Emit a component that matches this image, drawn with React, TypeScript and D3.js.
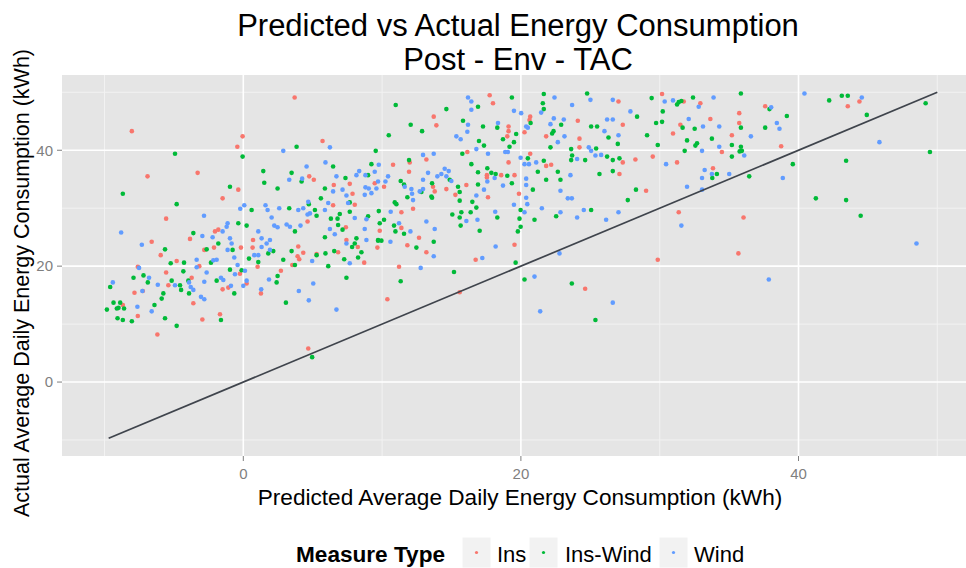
import React from "react";
import * as d3 from "d3";

const titleLines = ["Predicted vs Actual Energy Consumption", "Post - Env - TAC"];
const xTitle = "Predicted Average Daily Energy Consumption (kWh)";
const yTitle = "Actual Average Daily Energy Consumption (kWh)";
const legendTitle = "Measure Type";
const seriesNames = ["Ins", "Ins-Wind", "Wind"];
const seriesColors = ["#F8766D", "#00BA38", "#619CFF"];
const majorTicks = [0, 20, 40];
const minorTicks = [-10, 10, 30, 50];
const refLine = [-9.7, 50];

const insPoints: [number, number][] = [
  [3.7,49.1],[-8.03,43.3],[-0.05,42.4],[-0.43,40.6],[5.71,41.6],[-6.9,35.5],[-3.29,36.1],[-0.36,33.2],[-1.49,31.7],
  [4.75,35.5],[5.08,34.9],[6.52,34.0],[7.67,34.2],[7.87,32.5],[-5.56,28.2],[4.63,27.7],[-3.84,24.7],[-2.04,26.0],
  [-1.8,26.3],[0.7,24.5],[6.47,30.5],[7.39,26.7],[7.43,24.5],[8.03,30.6],
  [17.75,49.5],[17.99,48.1],[13.72,45.8],[13.91,44.3],[19.11,44.1],[19.11,43.3],[19.02,42.4],[20.67,45.8],[20.62,45.2],
  [20.26,43.1],[21.82,42.4],[24.22,42.0],[24.22,40.5],[24.1,45.1],[27.03,48.4],[27.34,44.4],[16.14,39.7],[20.67,39.4],
  [19.11,37.9],[10.79,37.5],[11.99,37.9],[11.94,36.3],[13.19,38.4],[21.82,37.3],[22.18,37.5],[29.5,38.9],[28.25,38.4],
  [27.34,37.9],[27.1,35.9],[29.02,33.0],[17.55,35.7],[17.55,35.3],[18.58,35.7],[19.54,35.7],[16.07,34.0],[13.67,33.7],
  [13.79,32.9],[14.63,33.3],[15.28,32.3],[19.86,32.5],[17.63,31.9],[9.47,34.3],[10.14,33.7],[12.23,29.9],[11.39,29.3],
  [11.39,26.6],[9.83,26.1],[12.66,24.9],
  [32.93,48.1],[31.73,48.4],[30.17,49.7],[37.6,47.6],[43.55,47.6],[44.39,48.4],[33.65,45.4],[35.73,46.4],[35.73,44.7],
  [31.49,44.4],[30.96,42.9],[35.2,42.6],[38.75,40.7],[34.48,39.7],[31.25,37.9],[33.84,36.9],[31.37,29.3],[36.04,28.4],
  [-6.6,24.2],[-5.95,21.9],[-7.6,19.9],[-5.56,18.9],[-4.8,20.9],[-5.4,16.7],[-7.84,15.4],[-7.24,15.7],[-8.68,13.3],
  [-7.6,11.4],[-6.19,8.2],[-3.6,13.6],[-2.95,10.8],[-1.68,11.7],[-3.72,18.0],[-3.17,20.0],[-2.81,22.8],[-2.11,23.2],
  [-1.49,16.0],[-1.08,16.3],[-0.24,18.7],[0.24,17.0],[-0.17,23.2],[0.67,23.2],[1.27,15.3],[1.03,19.9],[2.71,19.2],
  [3.53,20.2],[3.91,21.7],[4.03,21.2],[4.32,22.3],[5.28,22.1],[6.83,22.4],[4.68,5.8],[3.96,23.4],[8.25,23.3],
  [8.71,20.6],[9.66,23.2],[11.82,23.6],[11.22,19.9],[10.38,14.3],[13.19,22.4],[16.74,21.1],[19.54,23.7],[15.59,15.5],
  [24.63,16.1],[29.86,21.1],[35.67,22.2]
];

const insWindPoints: [number, number][] = [
  [3.84,40.6],[-4.92,39.4],[-0.05,38.9],[-8.68,32.5],[-4.8,30.7],[1.44,36.4],[1.51,34.4],[3.48,36.1],[4.2,34.6],
  [2.47,33.4],[-0.96,33.7],[6.47,37.2],[5.88,33.4],[5.59,31.7],[4.72,30.7],[3.31,30.0],[0.6,29.7],[-0.36,27.4],
  [0.24,27.0],[-3.6,25.7],[3.72,26.0],[5.16,29.7],[5.28,28.7],[6.31,28.2],[6.79,28.2],[6.95,29.0],[7.36,35.2],
  [7.67,31.0],[7.67,29.4],[6.83,27.1],[7.15,26.3],[5.88,25.0],[8.15,24.8],
  [10.98,47.8],[14.63,47.1],[16.91,47.5],[19.35,49.1],[12.06,44.4],[10.48,42.6],[12.88,43.3],[15.83,45.1],[17.27,44.1],
  [18.3,43.9],[19.66,42.8],[19.5,41.4],[18.71,41.9],[19.18,40.6],[16.98,41.6],[17.34,40.8],[21.58,48.1],[21.65,47.1],
  [21.65,49.7],[20.7,44.7],[22.25,42.9],[22.35,43.3],[22.9,44.4],[22.13,40.5],[23.62,40.2],[25.06,44.1],[25.49,44.1],
  [26.31,42.2],[26.98,41.1],[28.37,45.8],[29.42,49.0],[29.74,44.7],[29.86,40.9],[29.09,42.6],[24.77,49.8],[9.54,39.9],
  [15.78,39.4],[16.43,37.6],[17.58,36.9],[17.87,36.1],[16.91,36.2],[9.23,37.6],[8.99,35.7],[11.94,38.3],[11.34,34.7],
  [11.58,34.1],[13.6,34.3],[13.55,32.0],[15.47,33.7],[15.59,32.8],[15.59,31.3],[14.87,34.9],[16.91,34.1],[18.18,35.9],
  [19.02,35.6],[19.35,34.3],[20.5,38.6],[21.65,38.2],[21.22,36.3],[21.82,34.9],[20.86,33.2],[22.66,36.3],[22.85,34.9],
  [23.62,38.3],[23.69,39.1],[24.63,38.3],[25.42,40.3],[26.21,38.9],[26.62,38.3],[27.1,38.6],[25.66,35.9],[26.62,36.4],
  [28.29,33.2],[27.7,31.4],[25.06,29.7],[22.54,28.6],[20.98,28.0],[19.98,29.7],[19.9,28.2],[19.98,26.8],[19.78,26.0],
  [18.3,28.4],[16.79,30.1],[16.5,31.1],[15.71,29.3],[15.59,28.4],[15.66,27.0],[15.06,28.9],[16.38,29.3],[17.03,26.1],
  [10.91,31.0],[11.03,30.7],[9.76,29.5],[8.99,28.6],[10.14,28.0],[9.83,27.4],[10.86,27.0],[10.96,26.0],[11.58,25.6],
  [11.82,31.9],[12.83,32.8],[13.6,31.8],[9.71,24.5],
  [35.85,49.8],[32.4,49.1],[31.56,48.5],[31.37,48.3],[31.25,47.9],[30.22,46.7],[30.17,44.9],[31.65,43.9],[32.52,43.7],
  [35.85,43.9],[37.6,43.9],[37.91,47.1],[39.16,45.9],[42.21,48.6],[43.12,49.4],[43.55,49.4],[44.92,46.1],[49.16,48.1],
  [49.47,39.7],[31.97,41.7],[32.69,41.2],[32.57,40.8],[33.76,42.0],[31.8,39.9],[35.2,40.9],[35.85,40.6],[35.76,39.8],
  [35.92,39.9],[35.2,38.9],[34.12,35.9],[33.79,35.2],[36.45,35.5],[39.59,37.6],[43.43,38.2],[41.25,31.7],[43.43,31.4],
  [44.48,28.7],
  [-5.64,22.9],[-5.23,20.5],[-4.27,20.6],[-4.32,19.1],[-7.91,18.0],[-7.19,18.4],[-6.88,17.2],[-9.59,16.4],[-9.35,13.7],
  [-8.87,13.7],[-9.11,12.7],[-8.99,12.8],[-8.59,12.7],[-9.83,12.5],[-9.06,11.0],[-8.68,10.7],[-8.03,10.5],[-6.4,13.3],
  [-5.88,14.4],[-5.76,15.3],[-5.64,11.0],[-4.8,9.7],[-5.16,17.5],[-4.56,16.7],[-4.48,15.9],[-3.91,15.3],[-3.96,17.5],
  [-2.64,22.9],[-2.33,20.6],[-1.92,17.5],[-1.8,23.9],[-1.61,10.7],[-0.96,19.4],[-0.77,22.8],[-0.65,15.3],[-0.12,19.3],
  [0.41,21.3],[1.08,20.7],[1.8,22.2],[2.16,22.6],[2.47,18.3],[2.4,17.2],[2.88,21.1],[3.48,22.6],[3.72,20.2],[3.07,13.7],
  [5.28,21.9],[5.92,22.2],[6.12,20.0],[6.55,22.6],[7.27,21.2],[7.43,18.0],[7.84,23.3],[8.03,23.9],[8.27,21.5],[4.96,4.3],
  [9.71,24.4],[9.95,24.4],[12.47,23.2],[13.72,24.2],[11.34,17.4],[15.18,19.0],[19.62,20.6],[20.26,17.7],[23.67,17.0],
  [25.37,10.7],[8.51,22.4]
];

const windPoints: [number, number][] = [
  [6.24,40.5],[2.88,39.9],[4.56,37.2],[5.92,37.9],[6.71,35.5],[3.31,34.9],[4.24,35.1],[-8.8,25.8],[-2.83,28.7],
  [0.07,30.5],[-0.22,29.9],[1.6,30.5],[1.75,29.7],[2.59,30.0],[2.04,28.4],[2.23,27.0],[2.47,26.7],[3.12,27.2],
  [3.36,26.8],[3.96,29.7],[4.32,30.0],[4.68,31.1],[4.63,28.9],[4.8,29.1],[4.12,27.0],[5.88,29.7],[6.12,30.9],
  [6.47,32.9],[7.15,33.2],[7.43,32.2],[8.15,35.7],[8.35,36.4],[7.55,30.9],[8.03,28.3],[-1.13,27.4],[-1.2,26.8],
  [-1.49,26.0],[-0.96,24.8],[-2.21,25.0],[-2.95,25.2],[1.08,26.0],[1.32,24.8],[1.92,24.5],[6.24,26.4],[6.59,25.5],
  [16.19,49.1],[16.43,48.4],[16.43,47.0],[22.42,49.1],[23.69,47.8],[25.01,48.7],[26.62,48.7],[27.89,46.7],[19.5,46.8],
  [20.02,46.4],[21.46,46.5],[22.37,45.5],[23.09,45.3],[22.13,44.5],[26.21,45.3],[26.62,45.3],[26.02,43.3],[27.03,42.6],
  [23.14,42.4],[22.66,41.4],[20.5,43.9],[20.38,44.1],[18.35,44.7],[16.19,44.4],[16.14,43.2],[15.35,42.4],[15.66,41.9],
  [16.79,40.2],[17.63,39.4],[18.87,39.7],[19.06,39.7],[12.95,39.2],[13.72,39.4],[19.98,38.7],[20.26,37.6],[20.58,37.6],
  [21.1,37.9],[24.89,40.5],[25.06,39.9],[25.37,39.1],[25.78,39.2],[24.05,38.5],[23.57,35.7],[22.85,33.0],[23.38,31.7],
  [23.67,31.7],[21.51,30.0],[22.85,29.3],[24.05,28.4],[24.53,29.7],[26.14,28.0],[27.03,29.3],[14.51,36.8],[14.8,36.4],
  [14.27,35.9],[13.98,35.5],[14.63,35.5],[14.99,34.7],[12.95,34.9],[13.31,36.1],[12.95,33.3],[12.71,32.9],[12.11,33.3],
  [12.16,32.5],[12.23,31.4],[11.63,33.7],[10.43,35.5],[10.24,34.6],[9.76,37.5],[9.47,36.3],[8.8,35.7],[8.8,33.6],
  [9.04,33.4],[9.59,33.4],[9.71,34.6],[9.23,32.6],[8.75,32.3],[16.79,32.2],[17.34,33.2],[17.58,34.6],[18.11,35.2],
  [18.71,33.9],[20.38,35.1],[20.38,34.0],[19.5,30.6],[20.38,31.8],[20.46,30.7],[20.26,29.3],[18.15,29.4],[16.87,28.0],
  [16.07,27.8],[13.19,27.7],[13.79,26.4],[10.62,29.4],[8.87,28.1],[8.75,26.4],[12.04,26.0],[11.22,27.4],
  [40.43,49.8],[44.56,49.1],[30.36,48.4],[30.96,48.6],[33.88,49.1],[32.81,47.5],[38.03,47.4],[32.09,45.4],[33.12,44.1],
  [34.29,44.1],[38.44,44.7],[38.63,43.7],[36.57,42.4],[34.29,40.6],[33.05,39.9],[36.09,39.1],[30.46,37.6],[33.24,36.6],
  [33.76,35.9],[35.01,35.9],[33.05,35.2],[31.97,33.7],[33.05,33.2],[38.87,35.2],[45.83,41.4],[31.56,27.0],
  [-7.31,23.7],[-9.4,17.2],[-7.51,19.7],[-6.79,18.0],[-7.27,15.7],[-7.63,13.0],[-6.6,12.2],[-6.16,16.8],[-4.92,16.7],
  [-3.91,17.2],[-3.79,16.4],[-3.6,15.9],[-3.05,14.7],[-2.81,14.3],[-2.81,17.3],[-2.64,18.9],[-3.36,19.8],[-3.36,21.1],
  [-2.16,21.0],[-1.92,21.1],[-1.61,18.0],[-1.44,17.6],[-0.89,16.6],[-1.13,22.8],[-0.65,21.5],[-0.41,20.2],[-0.6,18.6],
  [0.12,19.2],[0.0,16.6],[0.24,17.5],[-0.84,23.9],[0.79,21.9],[1.08,21.9],[1.32,23.3],[1.68,23.9],[1.92,22.8],
  [1.29,16.0],[1.85,17.7],[4.0,15.7],[4.72,14.1],[5.04,17.0],[6.71,12.5],[4.96,20.9],[7.67,20.5],[7.43,23.9],
  [10.6,24.2],[8.87,24.5],[13.72,21.7],[12.78,19.7],[17.22,21.4],[18.18,23.4],[20.98,18.2],[21.39,12.2],[22.78,22.2],
  [26.62,13.7],[37.86,17.7],[48.5,23.9]
];

const allSeries = [insPoints, insWindPoints, windPoints];

const FONT = "'Liberation Sans', Arial, Helvetica, sans-serif";

export default function App() {
  const W = 966, H = 568;
  const panel = { left: 62, right: 966, top: 75, bottom: 456 };
  const x = d3.scaleLinear().domain([-10, 50]).range([104.5, 937.3]);
  const y = d3.scaleLinear().domain([-10, 50]).range([440, 92.3]);
  const lineGen = d3.line<number>().x((d) => x(d)).y((d) => y(d));

  const legendKeys = [
    { key: 462, label: 497 },
    { key: 529, label: 565 },
    { key: 659, label: 694 },
  ];

  return (
    <svg width={W} height={H} style={{ position: "absolute", left: 0, top: 0, background: "#fff" }}
      fontFamily={FONT}>
      <defs>
        <clipPath id="panelClip">
          <rect x={panel.left} y={panel.top} width={panel.right - panel.left} height={panel.bottom - panel.top} />
        </clipPath>
      </defs>
      <rect x={0} y={0} width={W} height={H} fill="#fff" />
      {titleLines.map((t, i) => (
        <text key={t} x={518} y={36 + i * 34} textAnchor="middle" fontSize={31} fill="#000">{t}</text>
      ))}
      <rect x={panel.left} y={panel.top} width={panel.right - panel.left} height={panel.bottom - panel.top} fill="#E5E5E5" />
      <g clipPath="url(#panelClip)">
        {minorTicks.map((v) => (
          <g key={"mn" + v}>
            <line x1={x(v)} x2={x(v)} y1={panel.top} y2={panel.bottom} stroke="#F2F2F2" strokeWidth={1} />
            <line x1={panel.left} x2={panel.right} y1={y(v)} y2={y(v)} stroke="#F2F2F2" strokeWidth={1} />
          </g>
        ))}
        {majorTicks.map((v) => (
          <g key={"mj" + v}>
            <line x1={x(v)} x2={x(v)} y1={panel.top} y2={panel.bottom} stroke="#fff" strokeWidth={1.6} />
            <line x1={panel.left} x2={panel.right} y1={y(v)} y2={y(v)} stroke="#fff" strokeWidth={1.6} />
          </g>
        ))}
        {allSeries.map((pts, si) => (
          <g key={seriesNames[si]} fill={seriesColors[si]}>
            {pts.map((p, i) => (
              <circle key={i} cx={x(p[0])} cy={y(p[1])} r={2.3} />
            ))}
          </g>
        ))}
        <path d={lineGen(refLine) || ""} stroke="#3F444C" strokeWidth={1.7} fill="none" />
      </g>
      {majorTicks.map((v) => (
        <g key={"yt" + v}>
          <line x1={panel.left - 5} x2={panel.left} y1={y(v)} y2={y(v)} stroke="#7F7F7F" strokeWidth={1} />
          <text x={panel.left - 9} y={y(v)} dy="0.35em" textAnchor="end" fontSize={15} fill="#7F7F7F">{v}</text>
        </g>
      ))}
      {majorTicks.map((v) => (
        <g key={"xt" + v}>
          <line x1={x(v)} x2={x(v)} y1={panel.bottom} y2={panel.bottom + 5} stroke="#7F7F7F" strokeWidth={1} />
          <text x={x(v)} y={479} textAnchor="middle" fontSize={15} fill="#7F7F7F">{v}</text>
        </g>
      ))}
      <text x={520} y={505} textAnchor="middle" fontSize={22.6} fill="#000">{xTitle}</text>
      <text transform={`translate(29,283) rotate(-90)`} textAnchor="middle" fontSize={21.5} fill="#000">{yTitle}</text>
      <text x={296} y={562} fontSize={22.6} fontWeight="bold" fill="#000">{legendTitle}</text>
      {legendKeys.map((k, i) => (
        <g key={seriesNames[i]}>
          <rect x={k.key} y={537} width={29} height={31} fill="#F2F2F2" stroke="#fff" strokeWidth={1} />
          <circle cx={k.key + 14.5} cy={552.5} r={1.6} fill={seriesColors[i]} />
          <text x={k.label} y={562} fontSize={22} fill="#000">{seriesNames[i]}</text>
        </g>
      ))}
    </svg>
  );
}
